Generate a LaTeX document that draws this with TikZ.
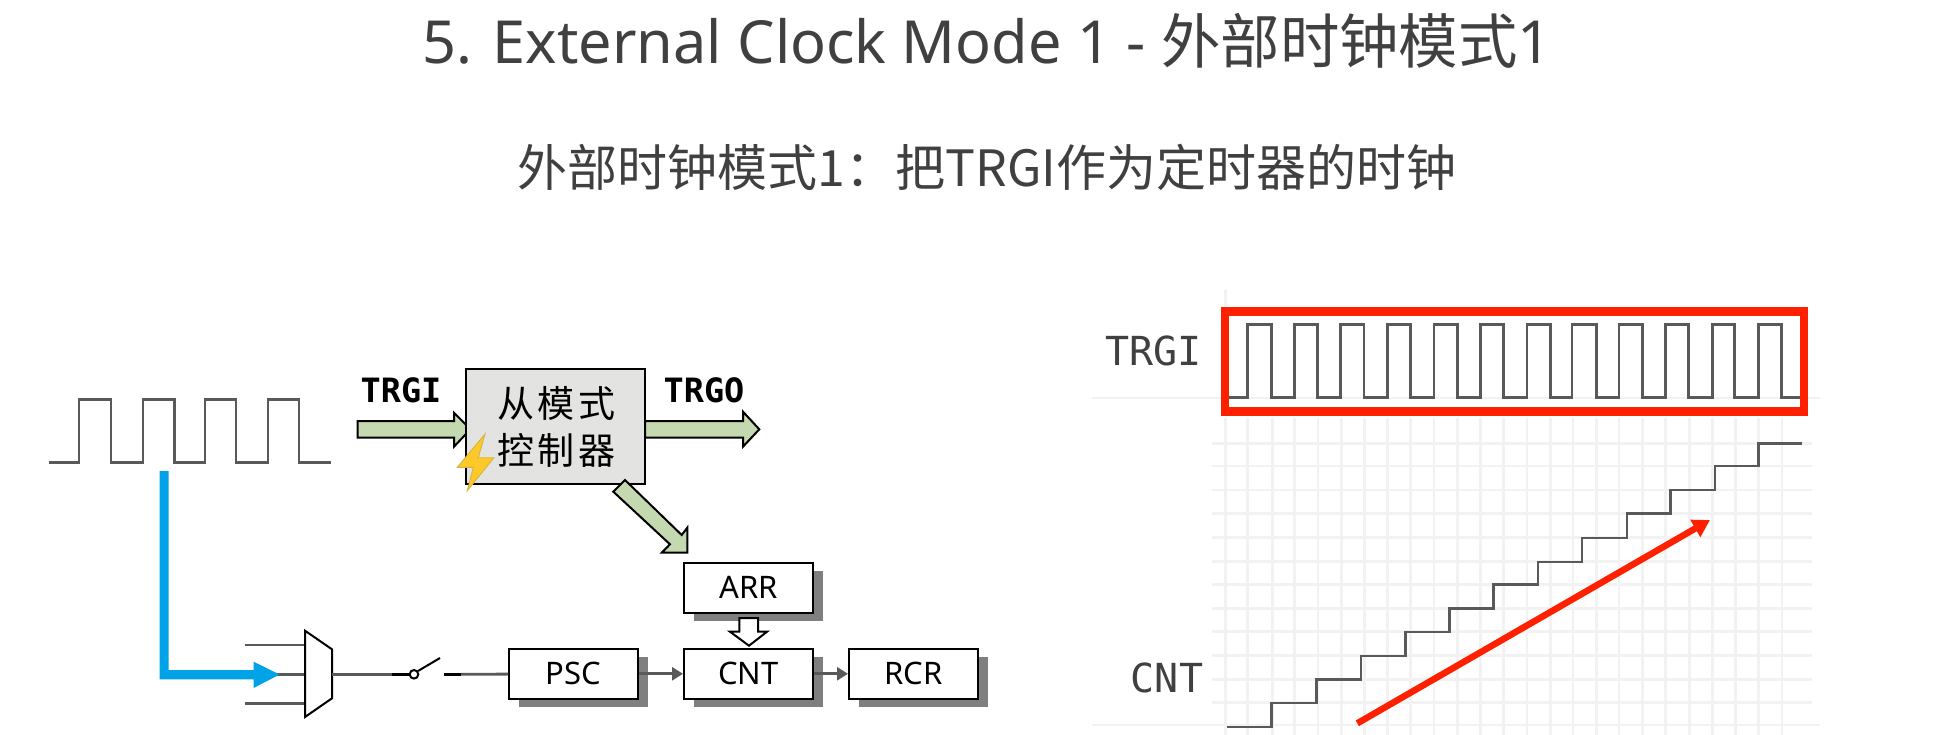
\documentclass[tikz,border=0pt]{standalone}
\usepackage{fontspec}
\setmainfont{Noto Sans}
\newfontfamily\cjk{Noto Sans CJK SC}
\newfontfamily\monof{DejaVu Sans Mono}
\usetikzlibrary{arrows.meta,shadows}
\definecolor{txt}{HTML}{404040}
\definecolor{wave}{HTML}{595959}
\definecolor{gridc}{HTML}{F2F2F2}
\definecolor{redc}{HTML}{FF2000}
\definecolor{greenc}{HTML}{C5D9B1}
\definecolor{boxc}{HTML}{E3E4E2}
\definecolor{bluec}{HTML}{00A2E8}
\definecolor{boltc}{HTML}{FDC928}
\definecolor{shadowc}{HTML}{7F7F7F}
\tikzset{
  fsz/.style={font=\fontsize{#1}{#1}\selectfont},
  wavel/.style={draw=wave,line width=2.8pt,line join=miter},
  gridl/.style={draw=gridc,line width=2.8pt},
  blockarrow/.style={draw=black,fill=greenc,line width=2pt,line join=miter},
  regbox/.style={draw=black,fill=white,line width=2pt,minimum width=129pt,minimum height=50pt,inner sep=0pt,
    general shadow={fill=shadowc,shadow xshift=10pt,shadow yshift=-8pt},fsz=31,text=black},
  conn/.style={draw=wave,line width=2.8pt},
  connhead/.style={conn,-{Triangle[length=11pt,width=13pt,fill=wave]}},
  sig/.style={font=\monof\bfseries\fontsize{33.5}{33.5}\selectfont,text=black},
  axlabel/.style={font=\monof\fontsize{40}{40}\selectfont,text=txt},
}
\begin{document}
\begin{tikzpicture}[x=1pt,y=-1pt]
\useasboundingbox (0,0) rectangle (1935,735);
% titles
\node[text=txt,font=\fontsize{59.4}{59.4}\selectfont] (title) at (987,41) {5. External Clock Mode 1 - {\cjk 外部时钟模式}1};
\node[text=txt,font=\cjk\fontsize{50}{50}\selectfont] (subtitle) at (987,167) {外部时钟模式1：把TRGI作为定时器的时钟};

% ---- left waveform
\draw[wavel] (48.5,462.3) -- (79,462.3) -- (79,399.3) -- (111,399.3) -- (111,462.3) -- (143,462.3) -- (143,399.3) -- (174.5,399.3) -- (174.5,462.3) -- (205,462.3) -- (205,399.3) -- (236,399.3) -- (236,462.3) -- (268,462.3) -- (268,399.3) -- (299,399.3) -- (299,462.3) -- (330.5,462.3);

% ---- mux input lines
\coordinate (in1a) at (245.4,645); \coordinate (in1b) at (305,645);
\coordinate (in2a) at (245.4,674.3); \coordinate (in2b) at (305,674.3);
\coordinate (in3a) at (245.4,703.3); \coordinate (in3b) at (305,703.3);
\draw[conn] (in1a) -- (in1b);
\draw[conn] (in2a) -- (in2b);
\draw[conn] (in3a) -- (in3b);
% blue arrow
\fill[bluec] (159.5,471) -- (168.7,471) -- (168.7,670) -- (253.6,670) -- (253.6,661.7) -- (279.6,674.5) -- (253.6,688) -- (253.6,679.3) -- (159.5,679.3) -- cycle;
% mux
\coordinate (muxout) at (332,674.3);
\draw[fill=white,line width=2pt,line join=miter] (305,630.7) -- (332,649.3) -- (332,698.3) -- (305,717) -- cycle;
% switch
\coordinate (swa) at (392,674.3); \coordinate (swb) at (409.5,674.3);
\coordinate (swc) at (418,671); \coordinate (swd) at (440,658);
\coordinate (swe) at (444,674.3); \coordinate (swf) at (461,674.3);
\draw[conn] (muxout) -- (swa);
\draw[draw=black,line width=2.8pt] (swa) -- (swb);
\draw[draw=black,line width=2pt] (414,674.3) circle[radius=4.3];
\draw[draw=black,line width=2pt] (swc) -- (swd);
\draw[draw=black,line width=2.8pt] (swe) -- (swf);

% ---- registers
\node[regbox] (arr) at (748.5,587.7) {ARR};
\node[regbox] (psc) at (573.5,673.8) {PSC};
\node[regbox] (cnt) at (748.5,673.8) {CNT};
\node[regbox] (rcr) at (913.5,673.8) {RCR};
\draw[connhead] (psc) -- (cnt);
\draw[connhead] (cnt) -- (rcr);
\draw[conn] (swf) -- (psc);
% hollow arrow ARR -> CNT
\draw[fill=white,draw=black,line width=2pt,line join=miter] (739.4,618) -- (758,618) -- (758,631.7) -- (767,631.7) -- (749,645.7) -- (730,631.7) -- (739.4,631.7) -- cycle;

% ---- slave controller
\draw[blockarrow] (357.6,421) -- (454,421) -- (454,412.7) -- (470.4,429.3) -- (454,446.7) -- (454,437.7) -- (357.6,437.7) -- cycle;
\draw[blockarrow] (645,421) -- (743,421) -- (743,411.7) -- (759.3,429.3) -- (743,446.7) -- (743,437.7) -- (645,437.7) -- cycle;
\node[draw=black,fill=boxc,line width=2pt,minimum width=179pt,minimum height=115pt,inner sep=0pt] (slave) at (555.5,426.8) {};
\node[font=\cjk\fontsize{37}{37}\selectfont,text=black] (sl1) at (556,403.5) {从\hspace{3.5pt}模\hspace{3.5pt}式};
\node[font=\cjk\fontsize{37}{37}\selectfont,text=black] (sl2) at (556,450) {控\hspace{3.5pt}制\hspace{3.5pt}器};
\draw[blockarrow] (625,480) -- (681.7,535) -- (687.3,527.7) -- (687.3,552.7) -- (661.7,552.7) -- (670,544.3) -- (613.3,491.7) -- cycle;
% bolt
\draw[fill=boltc,draw=boltc!70!gray,line width=0.9pt,line join=miter] (485,434) -- (457.3,467.3) -- (473.3,467.3) -- (467.3,490.7) -- (494,457.7) -- (478.3,457.7) -- cycle;
\node[sig] (ltrgi) at (401,390) {TRGI};
\node[sig] (ltrgo) at (704,390) {TRGO};

% ---- right chart: grid
\foreach \x in {1225.4,1247.2,1272.4,1294.7,1318,1341.8,1364.5,1387.8,1410.6,1433.9,1457.1,1480.4,1503.2,1526.9,1550.2,1573,1596.2,1619,1642.3,1665.6,1689.3,1712.6,1735.4,1758.6,1781.9}
  \draw[gridl] (\x,418) -- (\x,735);
\draw[gridl] (1225.4,290) -- (1225.4,310);
\foreach \y in {443.3,466,490,513.3,537.7,561.7,584.3,608.3,631.7,655.7,679.3,702.7}
  \draw[gridl] (1212,\y) -- (1812,\y);
\draw[gridl] (1092,398) -- (1820,398);
\draw[gridl] (1092,725) -- (1820,725);
% TRGI waveform
\draw[wavel] (1229.3,397.7)
 \foreach \r/\f in {1247.2/1271.5,1294.3/1317.5,1340.8/1364,1387.3/1410.6,1433.9/1457.1,1480.4/1503.2,1526.9/1550.2,1572/1596.2,1619/1642.3,1665.6/1688.3,1712.6/1734.4,1758.6/1781.4}
 { -- (\r,397.7) -- (\r,324.3) -- (\f,324.3) -- (\f,397.7) } -- (1799.8,397.7);
\draw[draw=redc,line width=8.7pt,line join=miter] (1225,311.7) rectangle (1804,411.7);
% CNT staircase
\draw[wavel,line width=2.4pt] (1226.9,726.7) -- (1271.5,726.7) -- (1271.5,702.7) -- (1316.5,702.7) -- (1316.5,679.3) -- (1361.1,679.3) -- (1361.1,655.7) -- (1405.3,655.7) -- (1405.3,631.7) -- (1449.4,631.7) -- (1449.4,608.3) -- (1493.5,608.3) -- (1493.5,584.3) -- (1538.1,584.3) -- (1538.1,561.7) -- (1582.2,561.7) -- (1582.2,537.7) -- (1626.8,537.7) -- (1626.8,513.3) -- (1670.4,513.3) -- (1670.4,490) -- (1715,490) -- (1715,466) -- (1758.6,466) -- (1758.6,443.3) -- (1802.2,443.3);
% red arrow
\coordinate (ra) at (1357.3,723.3);
\coordinate (rb) at (1710,520);
\draw[draw=redc,line width=6.5pt,-{Triangle[length=17pt,width=19pt,fill=redc]}] (ra) -- (rb);
\node[axlabel] (ctrgi) at (1153.5,351) {TRGI};
\node[axlabel,anchor=center] (ccnt) at (1167,678) {CNT};
\end{tikzpicture}
\end{document}
